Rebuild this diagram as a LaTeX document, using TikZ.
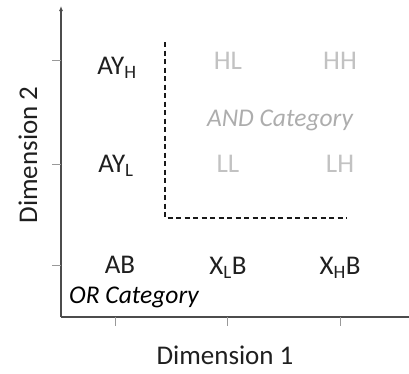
\documentclass[tikz,border=0pt]{standalone}
\usepackage{fontspec}
\usetikzlibrary{arrows.meta}
\setmainfont{Carlito}
\begin{document}
\begin{tikzpicture}[x=1pt,y=-1pt,
  lbl/.style={font=\fontsize{27}{31}\selectfont, inner sep=0pt, text=black!88},
  dim/.style={lbl, text=black!24},
  cat/.style={font=\fontsize{25.5}{30}\selectfont\itshape, inner sep=0pt},
  axis/.style={draw=black!70, line width=1.6pt},
  tick/.style={draw=black!40, line width=0.8pt},
  dline/.style={draw=black!90, line width=1.4pt, dash pattern=on 5pt off 3.5pt}]
\useasboundingbox (0,0) rectangle (409,373);
\coordinate (O) at (61,317);
\coordinate (Ytop) at (61,6);
\coordinate (Xend) at (409,317);
\draw[axis,-{Latex[length=5pt,width=4pt]}] (O) -- (Ytop);
\draw[axis] (O) -- (Xend);
% ticks
\foreach \y/\n in {60/ty1,164/ty2,265/ty3} {
  \coordinate (\n a) at (52,\y); \coordinate (\n b) at (61,\y);
  \draw[tick] (\n a) -- (\n b);
}
\foreach \x/\n in {115/tx1,227/tx2,340/tx3} {
  \coordinate (\n a) at (\x,317); \coordinate (\n b) at (\x,326);
  \draw[tick] (\n a) -- (\n b);
}
% dashed boundary
\coordinate (D1) at (165,42);
\coordinate (D2) at (165,218);
\coordinate (D3) at (347,218);
\draw[dline] (D1) -- (D2) -- (D3);
% labels
\node[lbl] (ayh) at (117,68) {AY\textsubscript{H}};
\node[lbl] (ayl) at (116,166) {AY\textsubscript{L}};
\node[lbl] (ab) at (120,265) {AB};
\node[lbl] (xlb) at (228,268) {X\textsubscript{L}B};
\node[lbl] (xhb) at (340,268) {X\textsubscript{H}B};
\node[dim] (hl) at (228,61) {HL};
\node[dim] (hh) at (340,61) {HH};
\node[dim] (ll) at (228,164) {LL};
\node[dim] (lh) at (340,164) {LH};
\node[cat, text=black!32] (andc) at (280,120) {AND Category};
\node[cat, text=black] (orc) at (134,297) {OR Category};
\node[lbl, rotate=90] (d2) at (28,155) {Dimension 2};
\node[lbl] (d1) at (225,355) {Dimension 1};
\end{tikzpicture}
\end{document}
